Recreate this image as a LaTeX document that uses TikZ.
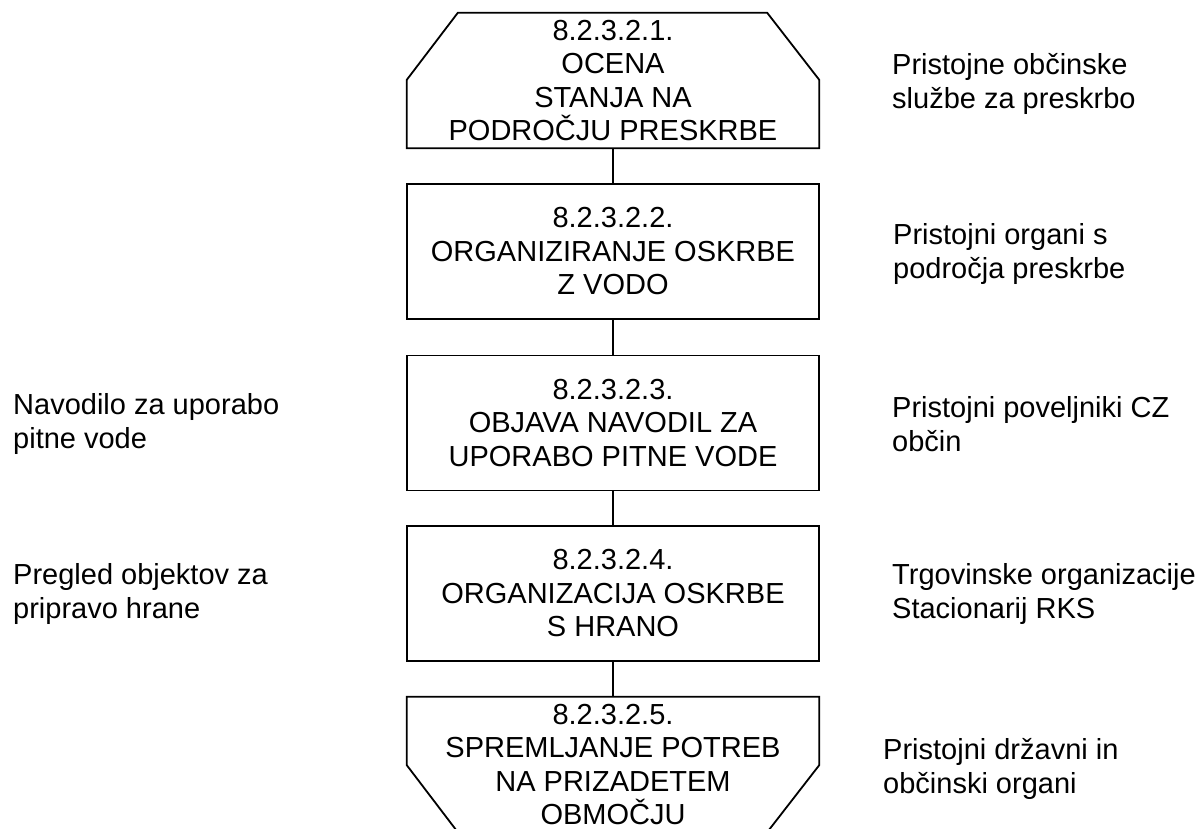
\documentclass[tikz,border=0pt]{standalone}
\usepackage{fontspec}
\setmainfont{Liberation Sans}
\usetikzlibrary{calc}
\begin{document}
\begin{tikzpicture}[x=1pt,y=-1pt,
  proc/.style={minimum width=412pt,minimum height=135pt,inner sep=0pt,align=center,
    font=\fontsize{29}{33.5}\selectfont},
  procbox/.style={proc,draw,line width=1.8pt},
  note/.style={anchor=west,align=left,inner sep=0pt,font=\fontsize{29}{34}\selectfont},
  link/.style={line width=1.8pt}]
\clip (0,0) rectangle (1203,829);
\useasboundingbox (0,0) rectangle (1203,829);
% process nodes
\node[proc] (p1) at (613,80.5) {8.2.3.2.1.\\OCENA\\STANJA NA\\PODROČJU PRESKRBE};
\node[procbox] (p2) at (613,251.5) {8.2.3.2.2.\\ORGANIZIRANJE OSKRBE\\Z VODO};
\node[procbox] (p3) at (613,423) {8.2.3.2.3.\\OBJAVA NAVODIL ZA\\UPORABO PITNE VODE};
\node[procbox] (p4) at (613,593.5) {8.2.3.2.4.\\ORGANIZACIJA OSKRBE\\S HRANO};
\node[proc] (p5) at (613,764.5) {8.2.3.2.5.\\SPREMLJANJE POTREB\\NA PRIZADETEM\\OBMOČJU};
% shaped outlines
\draw[link] ($(p1.north west)+(51,0)$) -- ($(p1.north east)+(-52,0)$)
  -- ($(p1.north east)+(0,67)$) -- (p1.south east) -- (p1.south west)
  -- ($(p1.north west)+(0,67)$) -- cycle;
\draw[link] (p5.north west) -- (p5.north east) -- ($(p5.south east)+(0,-67)$)
  -- ($(p5.south east)+(-52,0)$) -- ($(p5.south west)+(51,0)$)
  -- ($(p5.south west)+(0,-67)$) -- cycle;
% connectors
\draw[link] (p1.south) -- (p2.north);
\draw[link] (p2.south) -- (p3.north);
\draw[link] (p3.south) -- (p4.north);
\draw[link] (p4.south) -- (p5.north);
% notes right
\node[note] (r1) at (892,83.5) {Pristojne občinske\\službe za preskrbo};
\node[note] (r2) at (893,254) {Pristojni organi s\\področja preskrbe};
\node[note] (r3) at (892,424) {Pristojni poveljniki CZ\\občin};
\node[note] (r4) at (892,593.5) {Trgovinske organizacije\\Stacionarij RKS};
\node[note] (r5) at (883,769) {Pristojni državni in\\občinski organi};
% notes left
\node[note] (l3) at (13,424.5) {Navodilo za uporabo\\pitne vode};
\node[note] (l4) at (13,593.5) {Pregled objektov za\\pripravo hrane};
\end{tikzpicture}
\end{document}
